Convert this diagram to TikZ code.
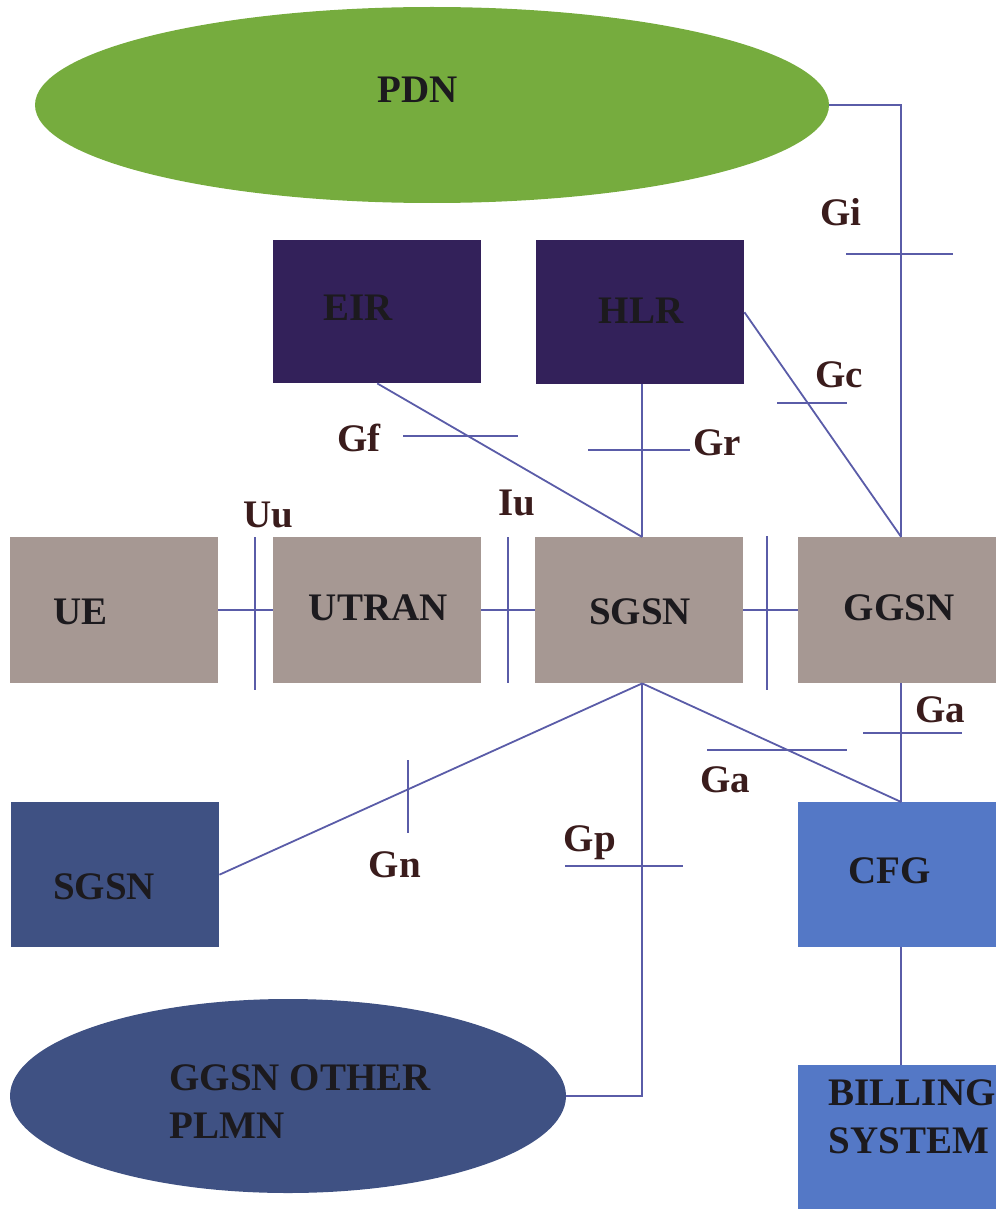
\documentclass[tikz,border=0pt]{standalone}
\usepackage{fontspec}
\setmainfont{Liberation Serif}
\usetikzlibrary{shapes.geometric}

\definecolor{pdngreen}{HTML}{76AC3E}
\definecolor{regpurple}{HTML}{33215A}
\definecolor{coregray}{HTML}{A69893}
\definecolor{slateblue}{HTML}{3F5183}
\definecolor{chargeblue}{HTML}{5478C6}
\definecolor{linkblue}{HTML}{5A5CA8}
\definecolor{ifcolor}{HTML}{3A1C1C}
\definecolor{txtdark}{HTML}{1C1A1E}

\newcommand\dgfont{\fontsize{39}{48}\selectfont\bfseries}

\begin{document}
\begin{tikzpicture}[x=1pt,y=-1pt,
  nodebox/.style={rectangle, inner sep=0pt, anchor=north west,
    minimum width=208pt, minimum height=145pt},
  edgebox/.style={nodebox, minimum width=198pt},
  cloud/.style={ellipse, inner sep=0pt},
  txt/.style={font=\dgfont, text=txtdark, align=left},
  link/.style={draw=linkblue, line width=1.8pt},
  tick/.style={draw=linkblue, line width=1.8pt},
  iflabel/.style={font=\dgfont, text=ifcolor}
]
\useasboundingbox (0,0) rectangle (996,1209);

% packet data network
\node[cloud, fill=pdngreen, minimum width=794pt, minimum height=196pt,
      label={[txt, xshift=-14pt, yshift=15pt]center:PDN}] (pdn) at (432,105) {};

% registers
\node[nodebox, fill=regpurple, minimum height=143pt,
      label={[txt, xshift=-19pt, yshift=4pt]center:EIR}] (eir) at (273,240) {};
\node[nodebox, fill=regpurple, minimum height=144pt,
      label={[txt, xshift=1pt, yshift=1pt]center:HLR}] (hlr) at (536,240) {};

% access and core row
\node[nodebox, fill=coregray, minimum height=146pt,
      label={[txt, xshift=-34pt, yshift=-2pt]center:UE}] (ue) at (10,537) {};
\node[nodebox, fill=coregray, minimum height=146pt,
      label={[txt, xshift=1pt, yshift=2pt]center:UTRAN}] (utran) at (273,537) {};
\node[nodebox, fill=coregray, minimum height=146pt,
      label={[txt, xshift=1pt, yshift=-2pt]center:SGSN}] (sgsn) at (535,537) {};
\node[edgebox, fill=coregray, minimum height=146pt,
      label={[txt, xshift=2pt, yshift=2pt]center:GGSN}] (ggsn) at (798,537) {};

% lower row
\node[nodebox, fill=slateblue,
      label={[txt, xshift=-11pt, yshift=-12pt]center:SGSN}] (sgsnb) at (11,802) {};
\node[edgebox, fill=chargeblue,
      label={[txt, xshift=-8pt, yshift=4pt]center:CFG}] (cfg) at (798,802) {};
\node[edgebox, fill=chargeblue, minimum height=144pt,
      label={[txt, xshift=15pt, yshift=20pt]center:BILLING\\SYSTEM}] (bill) at (798,1065) {};

\node[cloud, fill=slateblue, minimum width=556pt, minimum height=194pt,
      label={[txt, xshift=12pt, yshift=-6pt]center:GGSN OTHER\\PLMN}] (plmn) at (288,1096) {};

% connectors
\draw[link] (pdn.east) -| ([xshift=4pt]ggsn.north);
\draw[link] (hlr.east) -- ([xshift=4pt]ggsn.north);
\draw[link] (eir.south) -- ([xshift=3pt]sgsn.north);
\draw[link] ([xshift=2pt]hlr.south) -- ([xshift=3pt]sgsn.north);
\draw[link] (ue.east) -- (utran.west);
\draw[link] (utran.east) -- (sgsn.west);
\draw[link] (sgsn.east) -- (ggsn.west);
\draw[link] ([xshift=4pt]ggsn.south) -- ([xshift=4pt]cfg.north);
\draw[link] ([xshift=3pt]sgsn.south) -- ([xshift=4pt]cfg.north);
\draw[link] ([xshift=3pt]sgsn.south) -- (sgsnb.east);
\draw[link] ([xshift=3pt]sgsn.south) |- (plmn.east);
\draw[link] ([xshift=4pt]cfg.south) -- ([xshift=4pt]bill.north);

% interface ticks
\draw[tick] (846,254) -- (953,254);
\draw[tick] (777,403) -- (847,403);
\draw[tick] (403,436) -- (518,436);
\draw[tick] (588,450) -- (690,450);
\draw[tick] (255,537) -- (255,690);
\draw[tick] (508,537) -- (508,683);
\draw[tick] (767,536) -- (767,690);
\draw[tick] (863,733) -- (962,733);
\draw[tick] (707,750) -- (847,750);
\draw[tick] (408,760) -- (408,833);
\draw[tick] (565,866) -- (683,866);

% interface names
\node[iflabel] (lgi) at (841,212) {Gi};
\node[iflabel] (lgc) at (839,375) {Gc};
\node[iflabel] (lgf) at (359,438) {Gf};
\node[iflabel] (lgr) at (717,443) {Gr};
\node[iflabel] (luu) at (268,515) {Uu};
\node[iflabel] (liu) at (517,503) {Iu};
\node[iflabel] (lga) at (940,710) {Ga};
\node[iflabel] (lgb) at (725,780) {Ga};
\node[iflabel] (lgn) at (395,865) {Gn};
\node[iflabel] (lgp) at (590,843) {Gp};
\end{tikzpicture}
\end{document}
